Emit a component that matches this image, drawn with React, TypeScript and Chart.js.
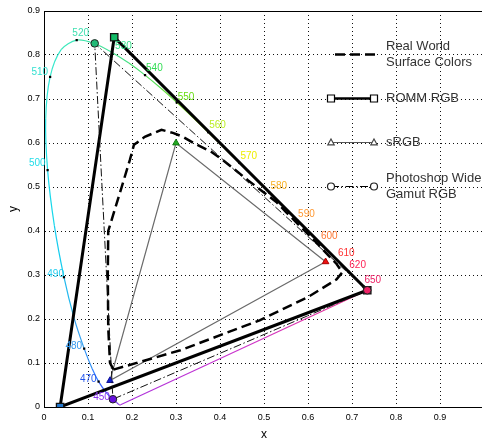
import React, { useEffect, useRef } from 'react';
import { Chart, registerables } from 'chart.js';
Chart.register(...registerables);

const FONT = "'Liberation Sans', Arial, Helvetica, sans-serif";

// Spectral locus (CIE 1931 xy)
const LOCUS_WL = [380, 400, 420, 430, 440, 450, 460, 470, 475, 480, 485, 490, 495, 500, 505, 510, 515, 520, 525, 530, 535, 540, 545, 550, 555, 560, 565, 570, 575, 580, 585, 590, 595, 600, 605, 610, 620, 630, 640, 650, 700];
const LOCUS_X = [0.1741, 0.1733, 0.1714, 0.1689, 0.1644, 0.1566, 0.144, 0.1241, 0.1096, 0.0913, 0.0687, 0.0454, 0.0235, 0.0082, 0.0039, 0.0139, 0.0389, 0.0743, 0.1142, 0.1547, 0.1929, 0.2296, 0.2658, 0.3016, 0.3373, 0.3731, 0.4087, 0.4441, 0.4788, 0.5125, 0.5448, 0.5752, 0.6029, 0.627, 0.6482, 0.6658, 0.6915, 0.7079, 0.719, 0.726, 0.7347];
const LOCUS_Y = [0.005, 0.0048, 0.0051, 0.0069, 0.0109, 0.0177, 0.0297, 0.0578, 0.0868, 0.1327, 0.2007, 0.295, 0.4127, 0.5384, 0.6548, 0.7502, 0.812, 0.8338, 0.8262, 0.8059, 0.7816, 0.7543, 0.7243, 0.6923, 0.6589, 0.6245, 0.5896, 0.5547, 0.5202, 0.4866, 0.4544, 0.4242, 0.3965, 0.3725, 0.3514, 0.334, 0.3083, 0.292, 0.2809, 0.274, 0.2653];
const LOCUS_COLOR = ['#9933cc', '#9933cc', '#8833dd', '#7733ee', '#6633ee', '#4a4af5', '#3560ff', '#2f7cff', '#3392f5', '#33a0f0', '#22b8ee', '#14ccee', '#18d8ea', '#22e0e4', '#30e6d8', '#38e8cc', '#3ce8bb', '#40e4aa', '#44e29a', '#48e088', '#4ee070', '#55dd55', '#66dd40', '#77dd22', '#99e020', '#bbe820', '#dded10', '#eeee00', '#ffdd11', '#ffbb22', '#ffaa22', '#ff9922', '#ff8822', '#ff7722', '#ff5522', '#ff3322', '#ff2244', '#ff2255', '#ee2266', '#ee2266', '#ee2266'];

// Labelled wavelengths
const LABEL_WL = [450, 470, 480, 490, 500, 510, 520, 530, 540, 550, 560, 570, 580, 590, 600, 610, 620, 650];
const LABEL_COLOR = ['#8833ee', '#2255ee', '#3399ee', '#22ccee', '#22dde8', '#33e0d0', '#3de0b0', '#33dd88', '#33dd55', '#66dd11', '#bbee22', '#eeee00', '#f8b020', '#ff9933', '#ff7733', '#ff3333', '#ff2255', '#ee2266'];

// Line of purples
const PURPLE_X = [0.1741, 0.7347];
const PURPLE_Y = [0.005, 0.2653];

// Gamuts (R, G, B, back to R)
const ROMM_X = [0.7347, 0.1596, 0.0366, 0.7347];
const ROMM_Y = [0.2653, 0.8404, 0.0001, 0.2653];
const SRGB_X = [0.64, 0.3, 0.15, 0.64];
const SRGB_Y = [0.33, 0.6, 0.06, 0.33];
const WIDE_X = [0.7347, 0.1152, 0.1566, 0.7347];
const WIDE_Y = [0.2653, 0.8264, 0.0177, 0.2653];

// Real world surface colours (Pointer gamut)
const RW_X = [0.158, 0.31, 0.49, 0.6, 0.665, 0.678, 0.665, 0.61, 0.55, 0.528, 0.464, 0.407, 0.38, 0.342, 0.316, 0.293, 0.267, 0.229, 0.2045, 0.195, 0.172, 0.146, 0.145, 0.146, 0.15, 0.158];
const RW_Y = [0.085, 0.129, 0.197, 0.25, 0.29, 0.306, 0.325, 0.383, 0.443, 0.466, 0.515, 0.561, 0.58, 0.599, 0.614, 0.623, 0.63, 0.614, 0.596, 0.561, 0.485, 0.4, 0.3, 0.18, 0.1, 0.085];

const LEGEND_NAMES = [['Real World', 'Surface Colors'], ['ROMM RGB'], ['sRGB'], ['Photoshop Wide', 'Gamut RGB']];

const X_TICKS = [0, 0.1, 0.2, 0.3, 0.4, 0.5, 0.6, 0.7, 0.8, 0.9];
const Y_TICKS = [0, 0.1, 0.2, 0.3, 0.4, 0.5, 0.6, 0.7, 0.8, 0.9];

const pts = (xs: number[], ys: number[]) => xs.map((x, i) => ({ x, y: ys[i] }));

const fmt = (v: number) => {
  const r = Math.round(v * 10) / 10;
  return r === 0 ? '0' : r.toFixed(1);
};

const DASH_RW = [10, 5];
const DASH_WIDE = [8, 2.5, 1.5, 2.5];

const labelPlugin = {
  id: 'locusLabels',
  afterDatasetsDraw(chart: any) {
    const { ctx } = chart;
    const xs = chart.scales.x;
    const ys = chart.scales.y;
    ctx.save();
    ctx.font = `10px ${FONT}`;
    ctx.textBaseline = 'middle';
    LABEL_WL.forEach((wl, i) => {
      const k = LOCUS_WL.indexOf(wl);
      const px = xs.getPixelForValue(LOCUS_X[k]);
      const py = ys.getPixelForValue(LOCUS_Y[k]);
      ctx.fillStyle = LABEL_COLOR[i];
      if (wl <= 510) {
        ctx.textAlign = 'right';
        const dx = wl === 450 ? -3 : wl === 490 ? 0 : -2;
        const dy = wl === 500 ? -7 : wl === 510 ? -5 : wl === 490 ? -3 : -2;
        ctx.fillText(String(wl), px + dx, py + dy);
      } else if (wl === 520) {
        ctx.textAlign = 'center';
        ctx.fillText(String(wl), px + 4, py - 7);
      } else {
        ctx.textAlign = 'left';
        const dx = wl === 530 ? 3 : 1;
        const dy = wl === 550 ? -5 : -6.5;
        ctx.fillText(String(wl), px + dx, py + dy);
      }
    });
    ctx.restore();
  },
};

const boxPlugin = {
  id: 'box',
  beforeDatasetsDraw(chart: any) {
    const { ctx, chartArea } = chart;
    ctx.save();
    ctx.strokeStyle = '#000';
    ctx.lineWidth = 1;
    ctx.beginPath();
    ctx.moveTo(chartArea.left, Math.round(chartArea.top) + 0.5);
    ctx.lineTo(chartArea.right, Math.round(chartArea.top) + 0.5);
    ctx.moveTo(Math.round(chartArea.right) - 0.5, chartArea.top);
    ctx.lineTo(Math.round(chartArea.right) - 0.5, chartArea.bottom);
    ctx.stroke();
    ctx.restore();
  },
};

function marker(ctx: any, style: string, x: number, y: number, stroke: string) {
  ctx.save();
  ctx.fillStyle = '#fff';
  ctx.strokeStyle = stroke;
  ctx.lineWidth = 1.2;
  ctx.setLineDash([]);
  ctx.beginPath();
  if (style === 'rect') {
    ctx.rect(x - 3.5, y - 3.5, 7, 7);
  } else if (style === 'triangle') {
    ctx.moveTo(x, y - 3.5);
    ctx.lineTo(x + 3.2, y + 2.3);
    ctx.lineTo(x - 3.2, y + 2.3);
    ctx.closePath();
  } else {
    ctx.arc(x, y, 3.5, 0, Math.PI * 2);
  }
  ctx.fill();
  ctx.stroke();
  ctx.restore();
}

const legendPlugin = {
  id: 'matlabLegend',
  afterDatasetsDraw(chart: any) {
    const { ctx, chartArea } = chart;
    const x0 = chartArea.left + 287;
    const x1 = chartArea.left + 330;
    const tx = chartArea.left + 342;
    const rows = [43.5, 87.5, 131.5, 175.5].map((d) => chartArea.top + d);
    ctx.save();
    // Real world
    ctx.strokeStyle = '#000';
    ctx.lineWidth = 2.5;
    ctx.setLineDash(DASH_RW);
    ctx.beginPath();
    ctx.moveTo(x0 + 4, rows[0]);
    ctx.lineTo(x1 + 2, rows[0]);
    ctx.stroke();
    // ROMM
    ctx.setLineDash([]);
    ctx.lineWidth = 2.5;
    ctx.beginPath();
    ctx.moveTo(x0, rows[1]);
    ctx.lineTo(x1, rows[1]);
    ctx.stroke();
    marker(ctx, 'rect', x0, rows[1], '#000');
    marker(ctx, 'rect', x1, rows[1], '#000');
    // sRGB
    ctx.strokeStyle = '#555';
    ctx.lineWidth = 1;
    ctx.beginPath();
    ctx.moveTo(x0, rows[2]);
    ctx.lineTo(x1, rows[2]);
    ctx.stroke();
    marker(ctx, 'triangle', x0, rows[2], '#444');
    marker(ctx, 'triangle', x1, rows[2], '#444');
    // Wide gamut
    ctx.strokeStyle = '#000';
    ctx.lineWidth = 1;
    ctx.setLineDash(DASH_WIDE);
    ctx.beginPath();
    ctx.moveTo(x0, rows[3]);
    ctx.lineTo(x1, rows[3]);
    ctx.stroke();
    ctx.setLineDash([]);
    marker(ctx, 'circle', x0, rows[3], '#222');
    marker(ctx, 'circle', x1, rows[3], '#222');
    // Text
    ctx.fillStyle = '#333';
    ctx.font = `13px ${FONT}`;
    ctx.textAlign = 'left';
    ctx.textBaseline = 'middle';
    LEGEND_NAMES.forEach((lines, i) => {
      if (lines.length === 1) {
        ctx.fillText(lines[0], tx, rows[i]);
      } else {
        ctx.fillText(lines[0], tx, rows[i] - 8.5);
        ctx.fillText(lines[1], tx, rows[i] + 8);
      }
    });
    ctx.restore();
  },
};

export default function App() {
  const ref = useRef<HTMLCanvasElement>(null);
  useEffect(() => {
    const canvas = ref.current!;
    const labelSet = new Set(LABEL_WL);
    const chart = new Chart(canvas, {
      type: 'scatter',
      data: {
        datasets: [
          {
            label: 'Photoshop Wide Gamut RGB',
            data: pts(WIDE_X, WIDE_Y),
            showLine: true,
            borderColor: '#111',
            borderWidth: 1,
            borderDash: DASH_WIDE,
            pointStyle: 'circle',
            pointRadius: [3.8, 3.8, 3.8, 0],
            pointBorderColor: '#222',
            pointBorderWidth: 1,
            pointBackgroundColor: ['#ee2266', '#22bb77', '#6611dd', '#ee2266'],
          } as any,
          {
            label: 'ROMM RGB',
            data: pts(ROMM_X, ROMM_Y),
            showLine: true,
            borderColor: '#000',
            borderWidth: 3,
            pointStyle: 'rect',
            pointRadius: [5.2, 5.2, 5.2, 0],
            pointBorderColor: '#111',
            pointBorderWidth: 1.3,
            pointBackgroundColor: ['#ee2255', '#11bb66', '#2277cc', '#ee2255'],
          } as any,
          {
            label: 'Real World Surface Colors',
            data: pts(RW_X, RW_Y),
            showLine: true,
            borderColor: '#000',
            borderWidth: 2.5,
            borderDash: DASH_RW,
            pointRadius: 0,
          } as any,
          {
            label: 'sRGB',
            data: pts(SRGB_X, SRGB_Y),
            showLine: true,
            borderColor: '#6a6a6a',
            borderWidth: 1.2,
            pointStyle: 'triangle',
            pointRadius: [3.8, 3.8, 3.8, 0],
            pointBorderColor: ['#aa0000', '#117711', '#111199', '#aa0000'],
            pointBorderWidth: 1,
            pointBackgroundColor: ['#ee1111', '#22aa22', '#1122cc', '#ee1111'],
          } as any,
          {
            label: 'purples',
            data: pts(PURPLE_X, PURPLE_Y),
            showLine: true,
            borderWidth: 1.2,
            pointRadius: 0,
            borderColor: (c: any) => {
              const ch = c.chart;
              if (!ch.chartArea || !ch.scales.x) return '#cc33cc';
              const g = ch.ctx.createLinearGradient(
                ch.scales.x.getPixelForValue(PURPLE_X[0]), 0,
                ch.scales.x.getPixelForValue(PURPLE_X[1]), 0);
              g.addColorStop(0, '#aa33dd');
              g.addColorStop(0.5, '#cc33cc');
              g.addColorStop(1, '#ee3388');
              return g;
            },
          } as any,
          {
            label: 'locus',
            data: pts(LOCUS_X, LOCUS_Y),
            showLine: true,
            borderWidth: 1.2,
            tension: 0.3,
            borderColor: '#33e0c0',
            segment: {
              borderColor: (c: any) => LOCUS_COLOR[c.p0DataIndex],
            },
            pointRadius: LOCUS_WL.map((w) => (labelSet.has(w) ? 1.6 : 0)),
            pointStyle: 'rect',
            pointBackgroundColor: '#000',
            pointBorderColor: '#000',
            pointBorderWidth: 0,
          } as any,
        ],
      },
      options: {
        animation: false,
        responsive: false,
        devicePixelRatio: 1,
        layout: { padding: { top: 11, right: 16, left: 0, bottom: 0 } },
        plugins: { legend: { display: false }, tooltip: { enabled: false } },
        scales: {
          x: {
            type: 'linear',
            min: 0,
            max: 1,
            afterBuildTicks: (s: any) => { s.ticks = X_TICKS.concat([1]).map((v) => ({ value: v })); },
            afterFit: (s: any) => { s.height = 33; },
            ticks: {
              autoSkip: false,
              maxRotation: 0,
              padding: 5,
              color: '#000',
              font: { family: FONT, size: 9 },
              callback: (v: any) => (v >= 0.95 ? '' : fmt(v)),
            },
            grid: { color: '#111', lineWidth: 1, drawTicks: false },
            border: { display: true, color: '#000', width: 1, dash: [1, 3] },
            title: { display: true, text: 'x', color: '#000', font: { family: FONT, size: 12 }, padding: { top: 0, bottom: -2 } },
          },
          y: {
            type: 'linear',
            min: 0,
            max: 0.9,
            afterBuildTicks: (s: any) => { s.ticks = Y_TICKS.map((v) => ({ value: v })); },
            afterFit: (s: any) => { s.width = 44; },
            ticks: {
              autoSkip: false,
              padding: 4,
              color: '#000',
              font: { family: FONT, size: 9 },
              callback: (v: any) => fmt(v),
            },
            grid: { color: '#111', lineWidth: 1, drawTicks: false },
            border: { display: true, color: '#000', width: 1, dash: [1, 3] },
            title: { display: true, text: 'y', color: '#000', font: { family: FONT, size: 12 }, padding: { top: 6, bottom: 0 } },
          },
        },
      } as any,
      plugins: [boxPlugin, labelPlugin, legendPlugin],
    });
    return () => chart.destroy();
  }, []);
  return (
    <div style={{ position: 'fixed', left: 0, top: 0, width: 482, height: 440, overflow: 'hidden', background: '#fff' }}>
      <canvas ref={ref} width={500} height={440} style={{ display: 'block', width: 500, height: 440 }} />
    </div>
  );
}
